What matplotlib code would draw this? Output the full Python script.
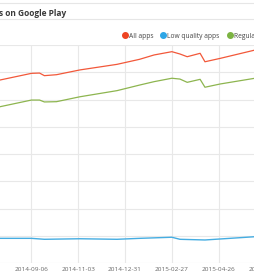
import matplotlib
matplotlib.use("Agg")
import matplotlib.pyplot as plt
import matplotlib.dates as mdates
from matplotlib.lines import Line2D
import pandas as pd

# data (apps on Google Play)
all_dates = ["2014-07-29", "2014-09-06", "2014-09-16", "2014-09-22", "2014-10-07",
             "2014-11-05", "2014-12-21", "2015-01-18", "2015-02-05", "2015-02-27",
             "2015-03-09", "2015-03-18", "2015-04-03", "2015-04-09", "2015-04-28",
             "2015-06-10", "2015-06-16"]
all_apps = [1343000, 1392000, 1394000, 1375000, 1382000,
            1417000, 1458000, 1495000, 1527000, 1551000,
            1534000, 1514000, 1539000, 1477000, 1502000,
            1563000, 1572000]
regular_apps = [1147000, 1196000, 1196000, 1182000, 1184000,
                1220000, 1265000, 1306000, 1331000, 1356000,
                1350000, 1326000, 1348000, 1290000, 1314000,
                1356000, 1362000]

low_dates = ["2014-07-29", "2014-09-06", "2014-09-22", "2014-11-05", "2014-12-21",
             "2015-01-18", "2015-02-27", "2015-03-09", "2015-04-09", "2015-05-10",
             "2015-06-10", "2015-06-16"]
low_quality_apps = [181000, 181000, 174000, 178000, 174000,
                    181000, 189000, 174000, 169000, 181000,
                    193000, 194000]

tick_dates = ["2014-09-06", "2014-11-03", "2014-12-31", "2015-02-27", "2015-04-26", "2015-06-23"]

red = "#f2583a"
blue = "#45ade2"
green = "#8db54f"
grid_col = "#e8e8e8"

fig = plt.figure(figsize=(2.55, 2.8), dpi=100)
# the chart is a crop: the plot runs past the right edge of the picture
ax = fig.add_axes([0, 1 - 263 / 280, 280 / 255, (263 - 45) / 280])

ad = pd.to_datetime(all_dates)
ld = pd.to_datetime(low_dates)
ax.plot(ad, all_apps, color=red, lw=0.9)
ax.plot(ld, low_quality_apps, color=blue, lw=1.0)
ax.plot(ad, regular_apps, color=green, lw=0.9)

ax.set_yticks(range(0, 1600001, 200000))
ax.set_xticks(pd.to_datetime(tick_dates))
ax.xaxis.set_major_formatter(mdates.DateFormatter("%Y-%m-%d"))
# limits after the ticks, otherwise set_xticks widens the view
ax.set_xlim(pd.Timestamp("2014-07-29"), pd.Timestamp("2015-07-11"))
ax.set_ylim(0, 1600000)
ax.grid(True, color=grid_col, lw=0.8)
ax.set_axisbelow(True)
for s in ax.spines.values():
    s.set_visible(False)
ax.tick_params(axis="x", length=0, pad=3, labelsize=4.6, labelcolor="#666666")
ax.tick_params(axis="y", length=0, labelleft=False)
for lbl in ax.get_xticklabels():
    lbl.set_fontfamily("Open Sans")

# header lines and title
fig.add_artist(Line2D([0, 1], [1 - 2.7 / 280] * 2, color="#e6e6e6", lw=0.8))
fig.add_artist(Line2D([0, 1], [1 - 19 / 280] * 2, color="#e6e6e6", lw=0.8))
fig.text(-0.004, 1 - 15.5 / 280, "s on Google Play", fontsize=6.0, fontweight="bold",
         family="Open Sans", color="#3a3a3a", va="baseline", ha="left")

handles = [Line2D([], [], ls="none", marker="o", ms=4, color=c) for c in ("#ee4422", "#2ea6e6", "#7cb342")]
leg = fig.legend(handles, ["All apps", "Low quality apps", "Regular apps"],
                 loc="center left", bbox_to_anchor=(123 / 255, 1 - 36 / 280), ncol=3,
                 frameon=False, handlelength=0.5, handletextpad=0.35,
                 columnspacing=1.3, borderpad=0, borderaxespad=0,
                 prop={"family": "Open Sans", "size": 4.8})
for t in leg.get_texts():
    t.set_color("#444444")

fig.savefig("out.png", dpi=100)
